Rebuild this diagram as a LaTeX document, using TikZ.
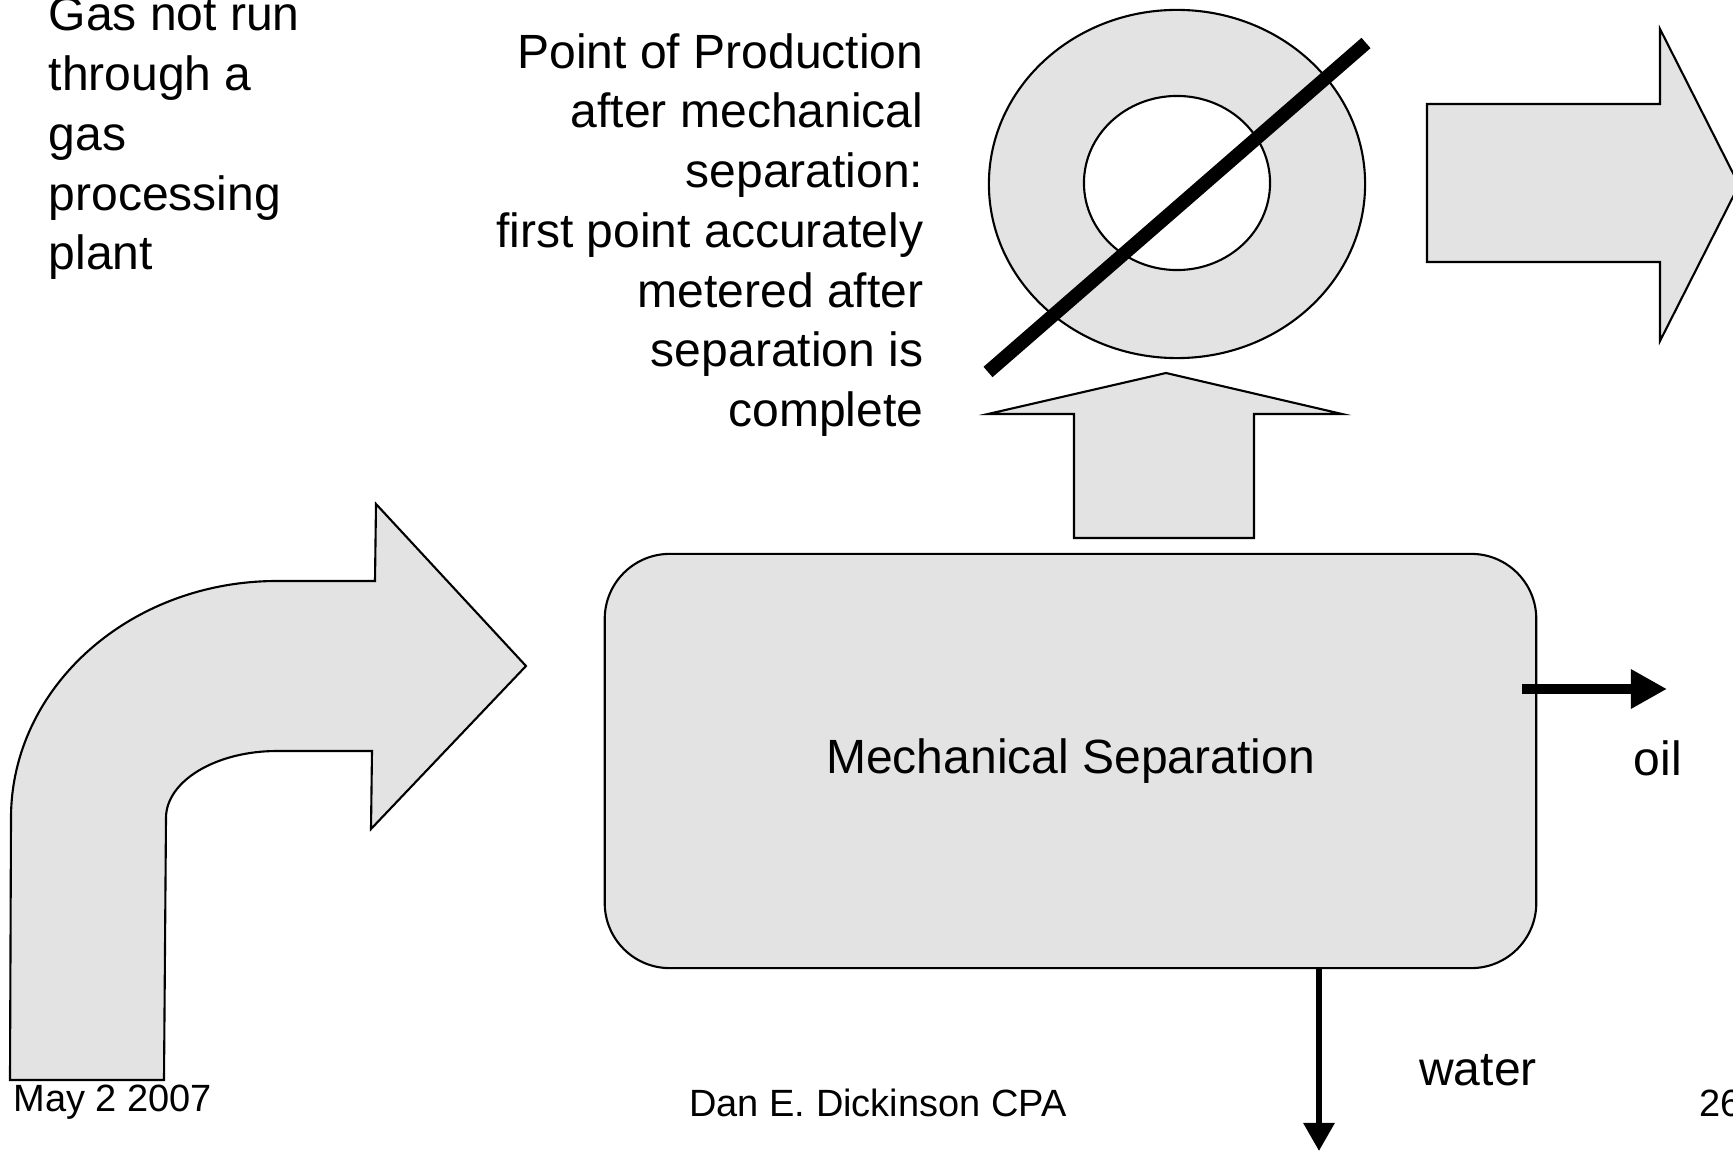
\documentclass[tikz,border=0pt]{standalone}
\usepackage{fontspec}
\setmainfont{Liberation Sans}
\usetikzlibrary{arrows.meta}
\begin{document}
\begin{tikzpicture}[x=0.01cm,y=-0.01cm,
  blockshape/.style={draw=black, line width=0.6pt, fill=black!11, line join=miter},
  bigtext/.style={font=\fontsize{13.66}{17}\selectfont, inner sep=0pt},
  foot/.style={font=\fontsize{10.8}{13}\selectfont, inner sep=0pt},
  oilflow/.style={line width=2.85pt, -{Triangle[length=3.6mm,width=3.7mm]}},
  waterflow/.style={line width=1.7pt, -{Triangle[length=2.8mm,width=3.0mm]}}
]
\useasboundingbox (0,0) rectangle (1733,1152);

% bent input arrow
\draw[blockshape] (10,1080) -- (11,818)
  .. controls (11,687) and (130,581) .. (277,581)
  -- (375,581) -- (376,504) -- (526,666) -- (371,829) -- (372,751)
  -- (277,751)
  .. controls (216,751) and (166,781) .. (166,818)
  -- (164,1080) -- cycle;

% separator box
\node[blockshape, rounded corners=0.65cm, minimum width=9.31cm, minimum height=4.14cm,
      bigtext] (sep) at (1070.5,761) {Mechanical Separation};

% up arrow from separator
\draw[blockshape] (1074,538) -- (1074,414) -- (988,414) -- (1166,373)
  -- (1342,414) -- (1254,414) -- (1254,538) -- cycle;

% ring with slash
\draw[blockshape, even odd rule] (1177,184) ellipse [x radius=1.88cm, y radius=1.74cm]
  (1177,183) ellipse [x radius=0.93cm, y radius=0.87cm];
\draw[line width=3.9pt] (988,372) -- (1366,43);

% right arrow (runs off the page)
\begin{scope}
\clip (0,0) rectangle (1733,1152);
\draw[blockshape] (1427,104) -- (1660,104) -- (1660,29) -- (1739,185)
  -- (1660,341) -- (1660,262) -- (1427,262) -- cycle;
\end{scope}

% outputs
\coordinate (oilend) at (1667,689);
\coordinate (waterend) at (1319,1151);
\draw[oilflow] ([xshift=-0.15cm]sep.east |- oilend) -- (oilend);
\draw[waterflow] (sep.south -| waterend) -- (waterend);

\node[bigtext] (oil) at (1658,758) {oil};
\node[bigtext] (water) at (1478,1070) {water};

% texts (base anchor = baseline of the last line)
\node[bigtext, anchor=base west, align=left] (gas) at (48,270)
  {Gas not run\\through a\\gas\\processing\\plant};
\node[bigtext, anchor=base east, align=right] (pop) at (924,426.7)
  {Point of Production\\after mechanical\\separation:\\first point accurately\\metered after\\separation is\\complete};

% footer
\node[foot, anchor=base west] (date) at (13,1111) {May 2 2007};
\node[foot, anchor=base] (author) at (878,1116) {Dan E. Dickinson CPA};
\node[foot, anchor=base west] (page) at (1699,1116) {26};
\end{tikzpicture}
\end{document}
